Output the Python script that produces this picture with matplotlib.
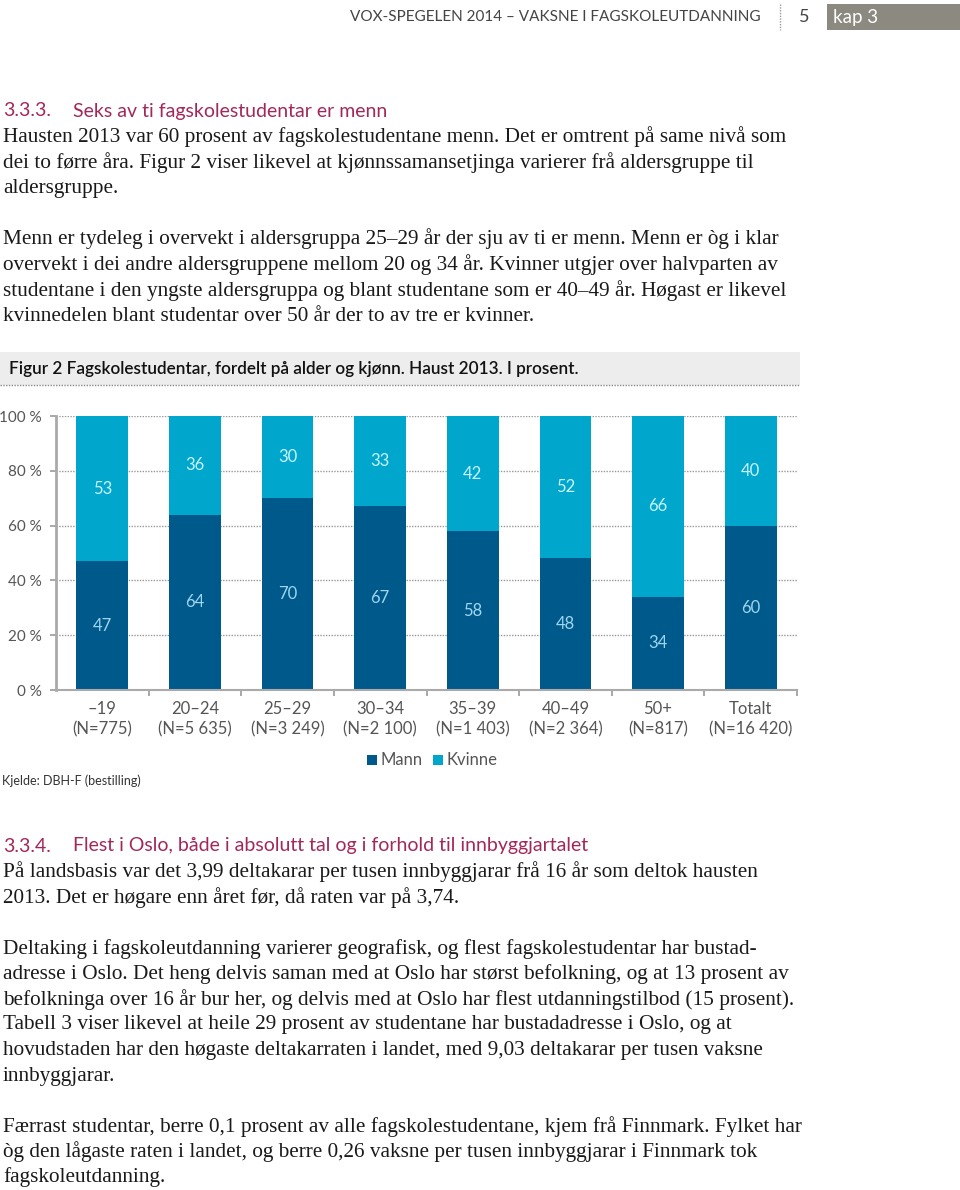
import matplotlib
matplotlib.use("Agg")
import matplotlib.pyplot as plt
from matplotlib.patches import Rectangle

# data
categories = ["–19\n(N=775)", "20–24\n(N=5 635)", "25–29\n(N=3 249)", "30–34\n(N=2 100)",
              "35–39\n(N=1 403)", "40–49\n(N=2 364)", "50+\n(N=817)", "Totalt\n(N=16 420)"]
mann = [47, 64, 70, 67, 58, 48, 34, 60]
kvinne = [53, 36, 30, 33, 42, 52, 66, 40]
yticks = [0, 20, 40, 60, 80, 100]

DARK = "#00598b"
LIGHT = "#00a6cb"
RED = "#a3285a"
GREY = "#555555"
SANS = ["Lato", "DejaVu Sans"]
SERIF = ["Liberation Serif", "DejaVu Serif"]

W, H = 960, 1190
fig = plt.figure(figsize=(W / 100, H / 100), dpi=100)


def fx(x):
    return x / W


def fy(y):
    return 1 - y / H


def txt(x, y, s, **kw):
    kw.setdefault("va", "center")
    kw.setdefault("ha", "left")
    fig.text(fx(x), fy(y), s, **kw)


# page header
txt(350, 17, "VOX-SPEGELEN 2014 – VAKSNE I FAGSKOLEUTDANNING", family=SANS,
    fontsize=11, color="#444444")
fig.add_artist(plt.Line2D([fx(780), fx(780)], [fy(4), fy(30)], transform=fig.transFigure,
                          color="#999999", lw=1, ls=(0, (1, 1))))
txt(799, 17, "5", family=SANS, fontsize=13, color="#444444")
fig.add_artist(Rectangle((fx(827), fy(30)), fx(960 - 827), (30 - 4) / H,
                         transform=fig.transFigure, color="#8c8a80", lw=0))
txt(833, 17, "kap 3", family=SANS, fontsize=13.5, color="white")

body = dict(family=SERIF, fontsize=15.3, color="#1a1a1a")
head = dict(family=SANS, fontsize=14, color=RED)

txt(3, 111, "3.3.3.", **head)
txt(73, 111, "Seks av ti fagskolestudentar er menn", **head)
lines1 = [
    (137, "Hausten 2013 var 60 prosent av fagskolestudentane menn. Det er omtrent på same nivå som"),
    (163, "dei to førre åra. Figur 2 viser likevel at kjønnssamansetjinga varierer frå aldersgruppe til"),
    (188, "aldersgruppe."),
    (239, "Menn er tydeleg i overvekt i aldersgruppa 25–29 år der sju av ti er menn. Menn er òg i klar"),
    (265, "overvekt i dei andre aldersgruppene mellom 20 og 34 år. Kvinner utgjer over halvparten av"),
    (291, "studentane i den yngste aldersgruppa og blant studentane som er 40–49 år. Høgast er likevel"),
    (317, "kvinnedelen blant studentar over 50 år der to av tre er kvinner."),
]
for y, s in lines1:
    txt(3, y, s, **body)

# figure title band
fig.add_artist(Rectangle((0, fy(385)), fx(800), (385 - 352) / H,
                         transform=fig.transFigure, color="#ededed", lw=0))
fig.add_artist(plt.Line2D([0, fx(800)], [fy(385), fy(385)], transform=fig.transFigure,
                          color="#888888", lw=1, ls=(0, (1, 1))))
txt(9, 369, "Figur 2 Fagskolestudentar, fordelt på alder og kjønn. Haust 2013. I prosent.",
    family=SANS, fontsize=12.3, color="#111111", weight="semibold")

# chart
ax = fig.add_axes([fx(56), fy(690), fx(797 - 56), (690 - 416) / H])
x = list(range(len(categories)))
ax.bar(x, mann, width=0.56, color=DARK, zorder=2)
ax.bar(x, kvinne, bottom=mann, width=0.56, color=LIGHT, zorder=2)
for i in x:
    ax.text(i, mann[i] / 2, str(mann[i]), ha="center", va="center",
            family=SANS, fontsize=12, color="#9fd6ef", zorder=3)
    ax.text(i, mann[i] + kvinne[i] / 2, str(kvinne[i]), ha="center", va="center",
            family=SANS, fontsize=12, color="#c9f3ff", zorder=3)

ax.set_xlim(-0.5, len(categories) - 0.5)
ax.set_ylim(0, 100)
ax.set_yticks(yticks)
ax.set_yticklabels([f"{v} %" for v in yticks], family=SANS, fontsize=11, color=GREY)
ax.set_xticks(x)
ax.set_xticklabels(categories, family=SANS, fontsize=12, color=GREY, linespacing=1.35)
ax.set_xticks([i + 0.5 for i in x], minor=True)
ax.tick_params(axis="x", which="major", length=0, pad=8)
ax.tick_params(axis="x", which="minor", length=4, color="#999999", width=1.2)
ax.tick_params(axis="y", length=4, color="#999999", width=1.2, pad=6)
for v in yticks[1:]:
    ax.axhline(v, color="#999999", lw=1, ls=(0, (1, 1)), zorder=1)
for side in ["top", "right"]:
    ax.spines[side].set_visible(False)
ax.spines["left"].set_color("#aaaaaa")
ax.spines["left"].set_linewidth(2)
ax.spines["bottom"].set_color("#aaaaaa")
ax.spines["bottom"].set_linewidth(1.5)

# legend
fig.add_artist(Rectangle((fx(367), fy(765)), 10 / W, 10 / H, transform=fig.transFigure,
                         color=DARK, lw=0))
txt(381, 760, "Mann", family=SANS, fontsize=12, color=GREY)
fig.add_artist(Rectangle((fx(433), fy(765)), 10 / W, 10 / H, transform=fig.transFigure,
                         color=LIGHT, lw=0))
txt(446, 760, "Kvinne", family=SANS, fontsize=12, color=GREY)
txt(2, 781, "Kjelde: DBH-F (bestilling)", family=SANS, fontsize=9, color="#333333")

txt(3, 846, "3.3.4.", **head)
txt(73, 846, "Flest i Oslo, både i absolutt tal og i forhold til innbyggjartalet", **head)
lines2 = [
    (872, "På landsbasis var det 3,99 deltakarar per tusen innbyggjarar frå 16 år som deltok hausten"),
    (898, "2013. Det er høgare enn året før, då raten var på 3,74."),
    (949, "Deltaking i fagskoleutdanning varierer geografisk, og flest fagskolestudentar har bustad-"),
    (974, "adresse i Oslo. Det heng delvis saman med at Oslo har størst befolkning, og at 13 prosent av"),
    (1000, "befolkninga over 16 år bur her, og delvis med at Oslo har flest utdanningstilbod (15 prosent)."),
    (1025, "Tabell 3 viser likevel at heile 29 prosent av studentane har bustadadresse i Oslo, og at"),
    (1051, "hovudstaden har den høgaste deltakarraten i landet, med 9,03 deltakarar per tusen vaksne"),
    (1076, "innbyggjarar."),
    (1127, "Færrast studentar, berre 0,1 prosent av alle fagskolestudentane, kjem frå Finnmark. Fylket har"),
    (1152, "òg den lågaste raten i landet, og berre 0,26 vaksne per tusen innbyggjarar i Finnmark tok"),
    (1177, "fagskoleutdanning."),
]
for y, s in lines2:
    txt(3, y, s, **body)

fig.savefig("out.png", dpi=100)
